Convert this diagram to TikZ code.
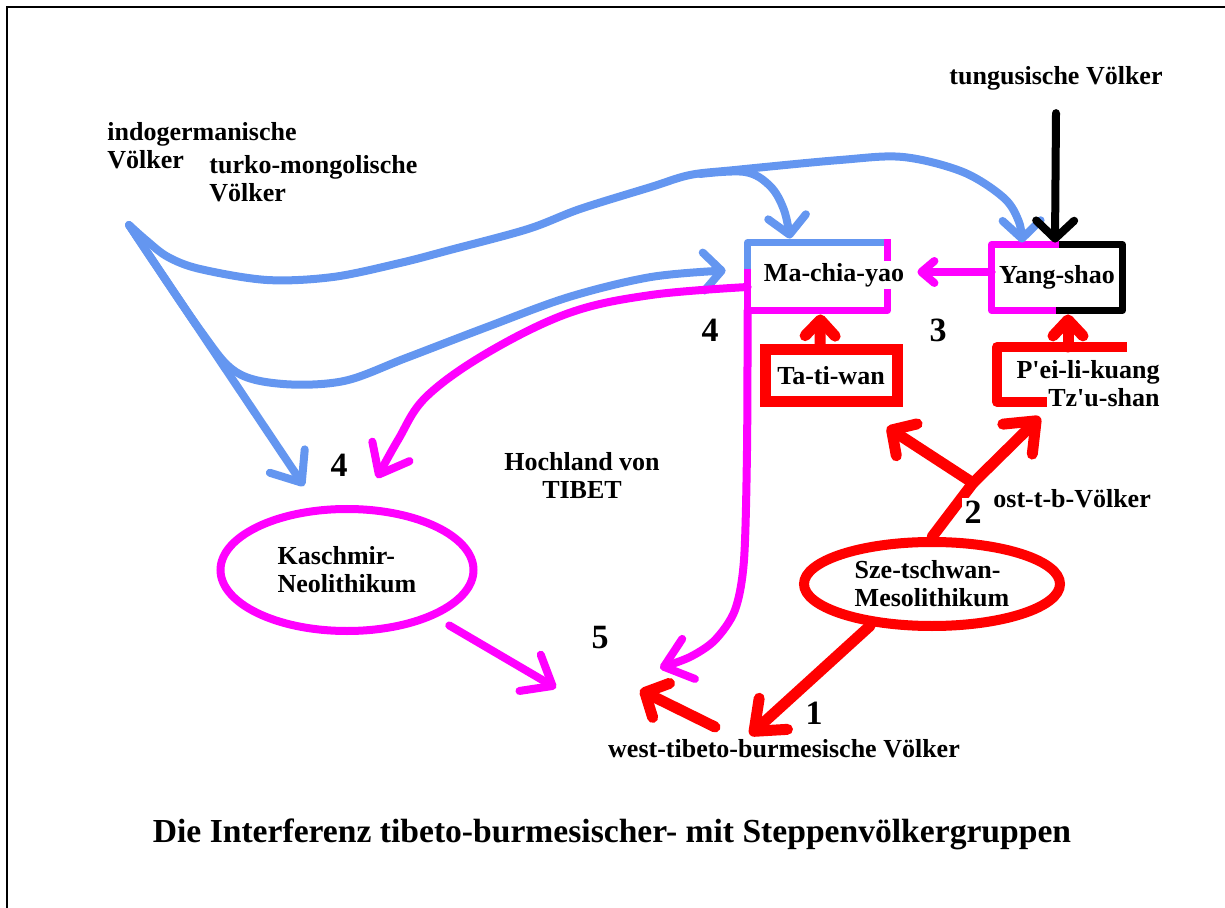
\documentclass[tikz,border=0pt]{standalone}
\usepackage{fontspec}
\setmainfont{Liberation Serif}
\usetikzlibrary{arrows.meta,shapes.geometric,calc}
\definecolor{cblue}{RGB}{100,150,240}
\definecolor{cmag}{RGB}{255,0,255}
\definecolor{cred}{RGB}{255,0,0}
\begin{document}
\begin{tikzpicture}[x=0.5pt,y=-0.5pt,
  lbl/.style={font=\fontsize{13}{14}\selectfont\bfseries,inner sep=0pt},
  num/.style={font=\fontsize{17}{18}\selectfont\bfseries,inner sep=0pt},
  hand/.style={-{Straight Barb[length=9pt,width=19pt,round]}},
  handm/.style={-{Straight Barb[length=8pt,width=15pt,round]}},
  hands/.style={-{Straight Barb[length=6.5pt,width=11pt,round]}},
  handL/.style={-{Straight Barb[length=13pt,width=21pt,round]}},
  bl/.style={draw=cblue,line width=4pt,line cap=round,line join=round},
  mg/.style={draw=cmag,line width=4pt,line cap=round,line join=round},
  rd/.style={draw=cred,line width=5.5pt,line cap=round,line join=round},
  bk/.style={draw=black,line width=4pt,line cap=round,line join=round},
  boxline/.style={line width=3.5pt,line cap=rect}
]
\useasboundingbox (0,0) rectangle (1225,908);
\draw[line width=1pt] (7,908) -- (7,7) -- (1225,7);

% ---------- text nodes ----------
\node[lbl,anchor=west,align=left] (indo) at (107,146) {indogermanische\\Völker};
\node[lbl,anchor=west,align=left] (turko) at (209,179) {turko-mongolische\\Völker};
\node[lbl,anchor=base] (tung) at (1056,85) {tungusische Völker};
\node[minimum width=69.5pt,minimum height=33.5pt,inner sep=0pt] (mc) at (817.5,276.5) {};
\node[lbl,anchor=base] (mct) at (834,282) {Ma-chia-yao};
\node[lbl,minimum width=65pt,minimum height=32.5pt] (ys) at (1057,277.5) {Yang-shao};
\node[lbl,draw=cred,line width=5.5pt,minimum width=66pt,minimum height=26pt] (tt) at (831,376) {Ta-ti-wan};
\node[lbl,anchor=east,align=right] (pl) at (1160,384) {P\textquotesingle ei-li-kuang\\Tz\textquotesingle u-shan};
\node[lbl,ellipse,draw=cmag,line width=4pt,align=left,minimum width=126.5pt,minimum height=61pt] (ka) at (347,570) {Kaschmir-\\Neolithikum};
\node[lbl,ellipse,draw=cred,line width=5pt,align=left,minimum width=128pt,minimum height=42pt] (sz) at (932,584) {Sze-tschwan-\\Mesolithikum};
\node[lbl,align=center] (hoch) at (582,476) {Hochland von\\TIBET};
\node[lbl,anchor=base west] (ost) at (993,508) {ost-t-b-Völker};
\node[lbl,anchor=base] (wtb) at (784,757) {west-tibeto-burmesische Völker};
\node[font=\fontsize{16.8}{18}\selectfont\bfseries,inner sep=0pt,anchor=base] (title) at (612,842) {Die Interferenz tibeto-burmesischer- mit Steppenvölkergruppen};

\node[num] (n4a) at (710,330) {4};
\node[num] (n3) at (938,330) {3};
\node[num] (n4b) at (339,465) {4};
\node[num] (n5) at (600,638) {5};
\node[num] (n1) at (814,713) {1};

% ---------- boxes ----------
\draw[bl,boxline] ([yshift=-15pt]mc.north west) -- (mc.north west) -- (mc.north east);
\draw[mg,boxline] (mc.north east) -- ([yshift=-7.5pt]mc.north east);
\draw[mg,boxline] ([yshift=9pt]mc.south east) -- (mc.south east) -- (mc.south west) -- ([yshift=-15pt]mc.north west);
\draw[mg,boxline] ([xshift=35.5pt]ys.north west) -- (ys.north west) -- (ys.south west) -- ([xshift=35.5pt]ys.south west);
\draw[bk,boxline] ([xshift=35.5pt]ys.north west) -- (ys.north east) -- (ys.south east) -- ([xshift=34pt]ys.south west);
\draw[rd,line width=5pt,line cap=rect] (1122,347) -- (997,347) -- (997,402) -- (1042,402);

% ---------- coordinates ----------
\coordinate (org) at (129,225);
\coordinate (plt) at (1068,347);
\coordinate (j2) at (973,483);
\coordinate (eTT) at (887,427);
\coordinate (ePL) at (1040,417);
\coordinate (e1) at (750,735);
\coordinate (w1) at (715,727);
\coordinate (e5c) at (640,690);
\coordinate (e5a) at (556,688);
\coordinate (e5b) at (660,668);
\coordinate (e4k) at (377,478);
\coordinate (e4b) at (304,486);
\coordinate (mk0) at ([yshift=-5.25pt]mc.west);
\coordinate (eys) at ([xshift=-17.5pt,yshift=1pt]ys.north);
\coordinate (emc) at ([xshift=-13.75pt,yshift=2pt]mc.north);
\coordinate (emw) at ([xshift=-11pt,yshift=3pt]mc.west);

% ---------- blue ----------
\draw[bl,hand] plot[smooth,tension=0.55] coordinates {(org) (147,241) (168,257) (200,269) (267,280) (333,277) (400,263) (450,250) (528,229) (580,209) (651,187) (690,175) (735,170) (840,160) (903,157) (963,172) (1004,198) (1019,222) (eys)};
\draw[bl,hand] plot[smooth,tension=0.6] coordinates {(700,174) (745,172) (770,186) (784,210) (emc)};
\draw[bl,hand] plot[smooth,tension=0.55] coordinates {(org) (200,330) (236,372) (283,384) (344,381) (406,358) (487,327) (569,297) (651,277) (emw)};
\draw[bl,handL] (org) -- (e4b);

% ---------- black ----------
\draw[bk,hand] ([yshift=-11pt]tung.south) -- ([xshift=-1pt,yshift=1pt]ys.north);

% ---------- magenta ----------
\draw[mg,handL] plot[smooth,tension=0.6] coordinates {(mk0) (651,295) (569,313) (487,353) (426,397) (398,440) (e4k)};
\draw[mg,handL] plot[smooth,tension=0.5] coordinates {(mc.south west) (747,450) (744,560) (735,610) (715,640) (690,657) (e5b)};
\draw[mg,hands] ([yshift=2.75pt]ys.west) -- ([xshift=15pt,yshift=2.25pt]mc.east);
\draw[mg,handL] ([shift={(7,11)}]ka.-25) -- (e5a);

% ---------- red ----------
\draw[rd,handm] ([xshift=-5.5pt]tt.north) -- ([xshift=1.5pt,yshift=-2pt]mc.south);
\draw[rd,handm] (plt) -- ([xshift=5.5pt,yshift=-2pt]ys.south);
\draw[rd,handL] (sz.north) -- (j2) -- (ePL);
\draw[rd,hand] (j2) -- (eTT);
\draw[rd,handL] (sz.-146) -- (e1);
\draw[rd,hand] (w1) -- (e5c);

\node[num,fill=white,inner sep=1.5pt] (n2) at (973,512) {2};
\end{tikzpicture}
\end{document}
